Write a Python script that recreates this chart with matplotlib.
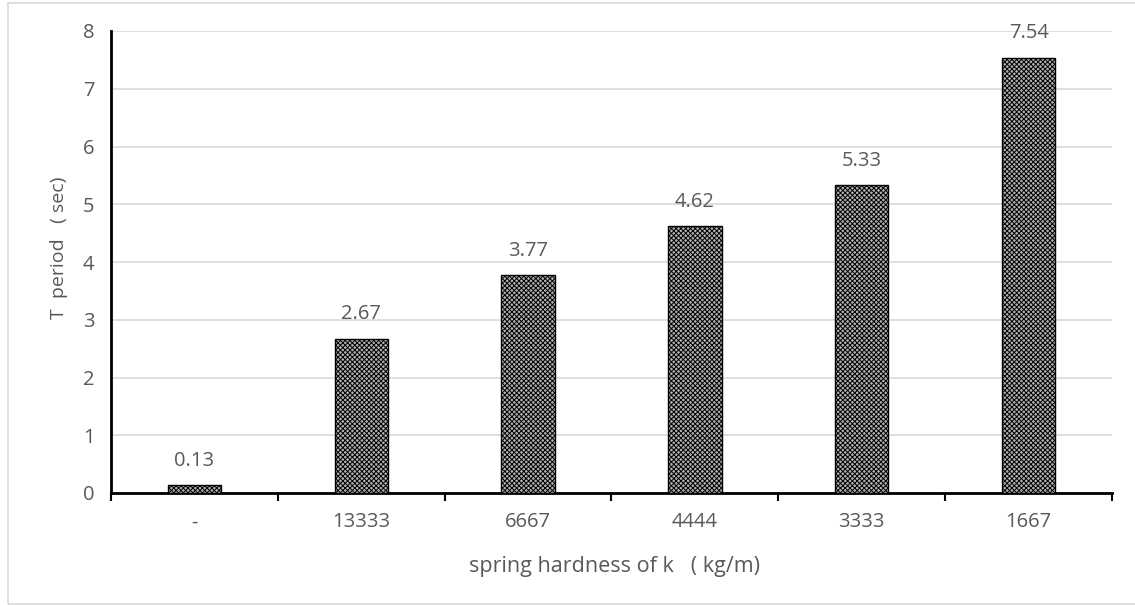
import matplotlib.pyplot as plt
from matplotlib.patches import Rectangle

plt.rcParams['font.family'] = ['Open Sans', 'DejaVu Sans']
plt.rcParams['hatch.linewidth'] = 0.7

categories = ['-', '13333', '6667', '4444', '3333', '1667']
periods = [0.13, 2.67, 3.77, 4.62, 5.33, 7.54]

txt = '#595959'
fig = plt.figure(figsize=(11.35, 6.06), dpi=100)
ax = fig.add_axes([111 / 1135, 1 - 493 / 606, (1112 - 111) / 1135, (493 - 31) / 606])

# light border around the whole chart area
fig.patches.append(Rectangle((8 / 1135, 2 / 606), 1.2, 601 / 606, transform=fig.transFigure,
                             fill=False, edgecolor='#d9d9d9', linewidth=1.2))

x = range(len(categories))
ax.bar(x, periods, width=0.32, color='#b0b0b0', edgecolor='black', hatch='xxxxxxx', linewidth=1.0, zorder=3)
for i, v in zip(x, periods):
    ax.text(i, v + 0.25, f'{v:.2f}', ha='center', va='bottom', fontsize=14.5, color=txt)

ax.set_xlim(-0.5, len(categories) - 0.5)
ax.set_ylim(0, 8)
ax.set_yticks(range(0, 9))
ax.set_xticks(list(x))
ax.set_xticklabels(categories)
ax.set_xticks([i - 0.5 for i in range(len(categories) + 1)], minor=True)
ax.tick_params(axis='x', which='major', length=0, pad=14, labelsize=14.5, labelcolor=txt)
ax.tick_params(axis='x', which='minor', length=6, width=1.5, color='black', direction='out')
ax.tick_params(axis='y', length=0, pad=12, labelsize=14.5, labelcolor=txt)
ax.grid(axis='y', color='#d9d9d9', linewidth=1.2, zorder=0)
for s in ['top', 'right']:
    ax.spines[s].set_visible(False)
ax.spines['left'].set_linewidth(2)
ax.spines['bottom'].set_linewidth(2)

ax.set_xlabel('spring hardness of k   ( kg/m)', fontsize=15.5, color=txt)
ax.set_ylabel('T  period   ( sec)', fontsize=14, color=txt)
ax.xaxis.set_label_coords(0.503, -0.136)
ax.yaxis.set_label_coords(-0.043, 0.53)

fig.savefig('out.png', dpi=100)
